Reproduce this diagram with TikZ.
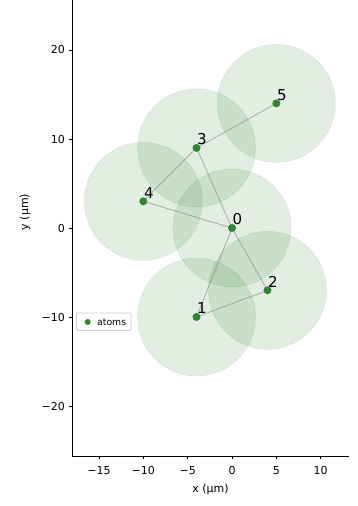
\documentclass[tikz,border=0pt]{standalone}
\usepackage{fontspec}
\setmainfont{DejaVu Sans}
\definecolor{dkgreen}{RGB}{0,100,0}
\definecolor{atomgreen}{RGB}{50,132,50}
\definecolor{legedge}{RGB}{204,204,204}
\tikzset{
  blockade/.style={circle,minimum size=118pt,inner sep=0pt,fill=dkgreen,fill opacity=0.11,draw=dkgreen,draw opacity=0.08,line width=0.8pt},
  atomdot/.style={circle,minimum size=8pt,inner sep=0pt,fill=atomgreen},
  bond/.style={draw=black!50,line width=0.8pt,opacity=0.6},
  atomlabel/.style={anchor=base west,inner sep=0pt,font=\fontsize{15}{17}\selectfont},
  ticklabel/.style={inner sep=0pt,font=\fontsize{11}{13}\selectfont},
  spine/.style={line width=0.9pt,black},
  tickmark/.style={line width=0.8pt,black}
}
\begin{document}
\begin{tikzpicture}[x=1pt,y=1pt]
\useasboundingbox (0,0) rectangle (357,506);
% data coordinate system: origin at (232,278), 8.87pt per unit in x, 8.9pt per unit in y
\begin{scope}[shift={(232,278)},x=8.87pt,y=8.9pt]
  \coordinate (p0) at (0,0);
  \coordinate (p1) at (-4,-10);
  \coordinate (p2) at (4,-7);
  \coordinate (p3) at (-4,9);
  \coordinate (p4) at (-10,3);
  \coordinate (p5) at (5,14);
\end{scope}
% blockade circles
\foreach \i in {0,...,5}{
  \node[blockade] (c\i) at (p\i) {};
}
% bonds
\draw[bond] (p3) -- (p5);
\draw[bond] (p3) -- (p4);
\draw[bond] (p3) -- (p0);
\draw[bond] (p4) -- (p0);
\draw[bond] (p0) -- (p1);
\draw[bond] (p0) -- (p2);
\draw[bond] (p1) -- (p2);
% atoms
\foreach \i in {0,...,5}{
  \node[atomdot] (a\i) at (p\i) {};
  \node[atomlabel] (l\i) at ([shift={(0.5pt,3pt)}]p\i) {\i};
}
% spines
\coordinate (origin) at (72,50);
\coordinate (ytop) at (72,506);
\coordinate (xright) at (349,50);
\draw[spine] (ytop) -- (origin) -- (xright);
% x ticks
\foreach \v in {-15,-10,-5,0,5,10}{
  \pgfmathsetmacro{\px}{232+8.87*\v}
  \draw[tickmark] (\px,50) -- (\px,46.5);
  \ifnum\v<0
    \node[ticklabel,anchor=base] (xt\v) at (\px,31) {−\the\numexpr-\v\relax};
  \else
    \node[ticklabel,anchor=base] (xt\v) at (\px,31) {\v};
  \fi
}
% y ticks
\foreach \v in {-20,-10,0,10,20}{
  \pgfmathsetmacro{\py}{278+8.9*\v}
  \draw[tickmark] (72,\py) -- (68.5,\py);
  \ifnum\v<0
    \node[ticklabel,anchor=east] (yt\v) at (65,\py) {−\the\numexpr-\v\relax};
  \else
    \node[ticklabel,anchor=east] (yt\v) at (65,\py) {\v};
  \fi
}
% axis labels
\node[ticklabel] (xlab) at (210.5,17) {x (μm)};
\node[ticklabel,rotate=90] (ylab) at (25,294) {y (μm)};
% legend
\draw[draw=legedge,fill=white,fill opacity=0.8,rounded corners=2pt,line width=0.8pt] (76.5,175.5) rectangle (131,193);
\node[circle,minimum size=6pt,inner sep=0pt,fill=atomgreen] (legdot) at (87.7,184) {};
\node[anchor=west,inner sep=0pt,font=\fontsize{9.3}{11}\selectfont] (legtext) at (97,184) {atoms};
\end{tikzpicture}
\end{document}
